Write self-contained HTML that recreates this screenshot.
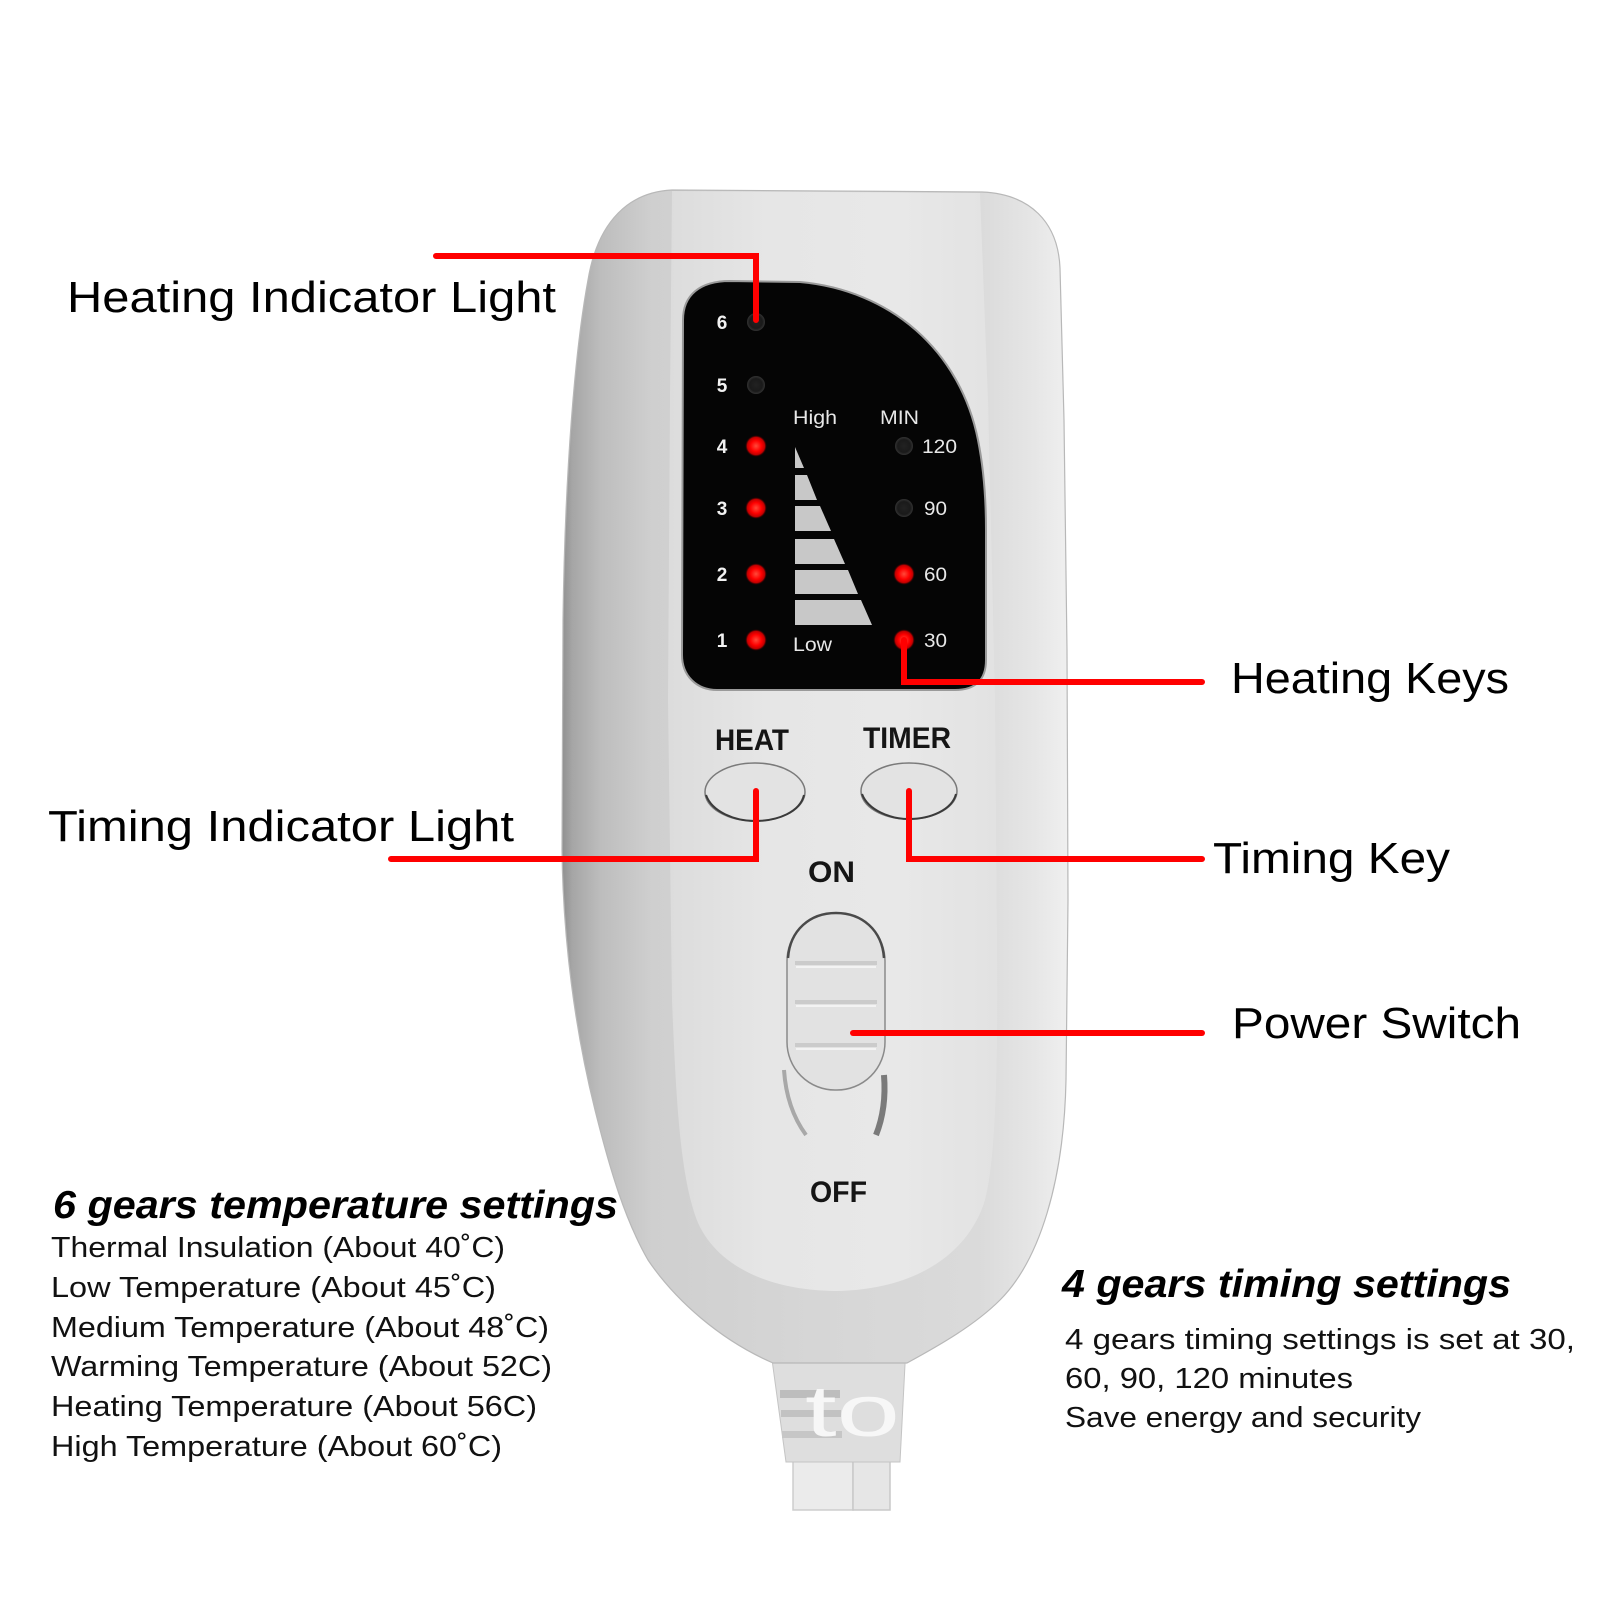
<!DOCTYPE html>
<html><head><meta charset="utf-8">
<style>
html,body{margin:0;padding:0;background:#fff;}
svg{display:block;}
text{font-family:"Liberation Sans",Arial,sans-serif;}
</style></head><body>
<svg xmlns="http://www.w3.org/2000/svg" width="1601" height="1601" viewBox="0 0 1601 1601">
<defs>
<linearGradient id="gBody" gradientUnits="userSpaceOnUse" x1="560" y1="0" x2="1070" y2="0">
<stop offset="0" stop-color="#8c8c8c"/>
<stop offset="0.025" stop-color="#a6a6a6"/>
<stop offset="0.08" stop-color="#bdbdbd"/>
<stop offset="0.18" stop-color="#cfcfcf"/>
<stop offset="0.5" stop-color="#d6d6d6"/>
<stop offset="0.82" stop-color="#dadada"/>
<stop offset="0.93" stop-color="#e6e6e6"/>
<stop offset="1" stop-color="#f0f0f0"/>
</linearGradient>
<linearGradient id="gFace" gradientUnits="userSpaceOnUse" x1="668" y1="0" x2="998" y2="0">
<stop offset="0" stop-color="#dcdcdc"/>
<stop offset="0.3" stop-color="#e6e6e6"/>
<stop offset="0.7" stop-color="#e8e8e8"/>
<stop offset="1" stop-color="#e2e2e2"/>
</linearGradient>
<radialGradient id="gRed">
<stop offset="0" stop-color="#ff4a3a"/>
<stop offset="0.5" stop-color="#ff0000"/>
<stop offset="0.8" stop-color="#c00000"/>
<stop offset="1" stop-color="#200000" stop-opacity="0"/>
</radialGradient>
<radialGradient id="gDark">
<stop offset="0" stop-color="#222"/>
<stop offset="0.7" stop-color="#1a1a1a"/>
<stop offset="1" stop-color="#333"/>
</radialGradient>
</defs>

<rect x="0" y="0" width="1601" height="1601" fill="#fff"/>

<!-- cables -->
<rect x="793" y="1450" width="60" height="60" fill="#ebebeb" stroke="#cdcdcd" stroke-width="1.5"/>
<rect x="853" y="1450" width="37" height="60" fill="#e6e6e6" stroke="#c8c8c8" stroke-width="1.5"/>
<!-- cable neck -->
<path d="M 770,1345 L 906,1345 L 900,1462 L 786,1462 Z" fill="#dedede" stroke="#c4c4c4" stroke-width="1"/>
<rect x="780" y="1390" width="60" height="8" fill="#bdbdbd"/>
<rect x="781" y="1410" width="60" height="7" fill="#c2c2c2"/>
<rect x="782" y="1431" width="60" height="7" fill="#c6c6c6"/>
<text x="805" y="1436" font-size="72" fill="#f7f7f7" textLength="95" lengthAdjust="spacingAndGlyphs">to</text>

<!-- body -->
<path d="M 672,190 L 982,192 C 1030,194 1058,222 1060,268 L 1064,420 L 1067,650 L 1068,900 L 1066,1080 C 1064,1180 1040,1260 1000,1300 C 975,1325 940,1345 907,1363 L 773,1363 C 720,1340 675,1300 648,1260 C 625,1220 610,1170 595,1110 C 575,1030 563,940 562,850 L 563,620 C 565,470 575,350 588,280 C 598,220 630,192 672,190 Z" fill="url(#gBody)" stroke="#b8b8b8" stroke-width="1.2"/>

<!-- front face -->
<path d="M 672,191 L 980,193 L 988,400 L 995,700 L 997,950 C 998,1080 995,1160 985,1200 C 970,1250 920,1290 835,1291 C 760,1290 710,1260 695,1215 C 680,1170 676,1100 672,1000 L 668,700 L 670,400 Z" fill="url(#gFace)"/>

<!-- screen -->
<path d="M 730,281 L 800,282 C 890,290 960,350 978,440 C 984,470 986,500 986,530 L 986,660 C 986,680 975,690 955,690 L 717,690 C 697,690 682,676 682,655 L 683,320 C 683,295 700,281 730,281 Z" fill="#050505" stroke="#9a9a9a" stroke-width="2"/>

<!-- triangle bars -->
<g fill="#c8c8c8">
<polygon points="795,447 795,468 804,468"/>
<polygon points="795,475 807,475 817,500 795,500"/>
<polygon points="795,506 820,506 831,531 795,531"/>
<polygon points="795,539 834,539 845,564 795,564"/>
<polygon points="795,570 848,570 858,594 795,594"/>
<polygon points="795,600 861,600 872,625 795,625"/>
</g>

<!-- LEDs left -->
<circle cx="756" cy="322" r="9" fill="url(#gDark)"/>
<circle cx="756" cy="385" r="9" fill="url(#gDark)"/>
<circle cx="756" cy="446" r="11" fill="url(#gRed)"/>
<circle cx="756" cy="508" r="11" fill="url(#gRed)"/>
<circle cx="756" cy="574" r="11" fill="url(#gRed)"/>
<circle cx="756" cy="640" r="11" fill="url(#gRed)"/>
<!-- LEDs right -->
<circle cx="904" cy="446" r="9" fill="url(#gDark)"/>
<circle cx="904" cy="508" r="9" fill="url(#gDark)"/>
<circle cx="904" cy="574" r="11" fill="url(#gRed)"/>
<circle cx="904" cy="640" r="11" fill="url(#gRed)"/>

<!-- screen labels -->
<g fill="#f2f2f2" font-size="19" font-weight="bold">
<text x="722" y="329" text-anchor="middle">6</text>
<text x="722" y="392" text-anchor="middle">5</text>
<text x="722" y="453" text-anchor="middle">4</text>
<text x="722" y="515" text-anchor="middle">3</text>
<text x="722" y="581" text-anchor="middle">2</text>
<text x="722" y="647" text-anchor="middle">1</text>
</g>
<g fill="#e8e8e8" font-size="19">
<text x="793" y="424" textLength="44" lengthAdjust="spacingAndGlyphs">High</text>
<text x="880" y="424" textLength="39" lengthAdjust="spacingAndGlyphs">MIN</text>
<text x="793" y="651" textLength="39" lengthAdjust="spacingAndGlyphs">Low</text>
<text x="922" y="453" textLength="35" lengthAdjust="spacingAndGlyphs">120</text>
<text x="924" y="515" textLength="23" lengthAdjust="spacingAndGlyphs">90</text>
<text x="924" y="581" textLength="23" lengthAdjust="spacingAndGlyphs">60</text>
<text x="924" y="647" textLength="23" lengthAdjust="spacingAndGlyphs">30</text>
</g>

<!-- HEAT / TIMER labels -->
<g fill="#151515" font-size="30" font-weight="bold">
<text x="715" y="750" textLength="74" lengthAdjust="spacingAndGlyphs">HEAT</text>
<text x="863" y="748" textLength="88" lengthAdjust="spacingAndGlyphs">TIMER</text>
<text x="808" y="882" textLength="47" lengthAdjust="spacingAndGlyphs">ON</text>
<text x="810" y="1202" textLength="57" lengthAdjust="spacingAndGlyphs">OFF</text>
</g>

<!-- buttons -->
<ellipse cx="755" cy="792" rx="50" ry="29" fill="#e3e3e3" stroke="#7a7a7a" stroke-width="1.5"/>
<path d="M 706,795 C 712,812 735,821 755,821 C 778,821 800,812 804,795" fill="none" stroke="#3a3a3a" stroke-width="2"/>
<ellipse cx="909" cy="791" rx="48" ry="28" fill="#e3e3e3" stroke="#7a7a7a" stroke-width="1.5"/>
<path d="M 862,794 C 868,810 890,819 909,819 C 930,819 952,810 956,794" fill="none" stroke="#3a3a3a" stroke-width="2"/>

<!-- switch track -->
<path d="M 784,1070 C 786,1100 795,1120 806,1135" fill="none" stroke="#a8a8a8" stroke-width="4"/>
<path d="M 884,1075 C 886,1100 882,1120 876,1135" fill="none" stroke="#7a7a7a" stroke-width="6"/>
<!-- slider -->
<rect x="787" y="913" width="98" height="177" rx="48" ry="48" fill="#e2e2e2" stroke="#8a8a8a" stroke-width="1.5"/>
<path d="M 788,958 C 790,930 810,913 836,913 C 862,913 882,930 884,958" fill="none" stroke="#4a4a4a" stroke-width="2.5"/>
<g stroke-width="4">
<line x1="795" y1="963" x2="877" y2="963" stroke="#cbcbcb"/>
<line x1="795" y1="1002" x2="877" y2="1002" stroke="#cbcbcb"/>
<line x1="795" y1="1045" x2="877" y2="1045" stroke="#cbcbcb"/>
</g>
<g stroke-width="2" stroke="#f3f3f3">
<line x1="796" y1="967" x2="876" y2="967"/>
<line x1="796" y1="1006" x2="876" y2="1006"/>
<line x1="796" y1="1049" x2="876" y2="1049"/>
</g>

<!-- red leader lines -->
<g fill="none" stroke="#ff0000" stroke-width="6" stroke-linecap="round" stroke-linejoin="miter">
<polyline points="436,256 756,256 756,320"/>
<polyline points="391,859 756,859 756,791"/>
<polyline points="904,640 904,682 1202,682"/>
<polyline points="909,791 909,859 1202,859"/>
<line x1="853" y1="1033" x2="1202" y2="1033"/>
</g>

<!-- callout labels -->
<g fill="#000" font-size="44">
<text x="67" y="312" textLength="489" lengthAdjust="spacingAndGlyphs">Heating Indicator Light</text>
<text x="48" y="841" textLength="466" lengthAdjust="spacingAndGlyphs">Timing Indicator Light</text>
<text x="1231" y="693" textLength="278" lengthAdjust="spacingAndGlyphs">Heating Keys</text>
<text x="1213" y="873" textLength="237" lengthAdjust="spacingAndGlyphs">Timing Key</text>
<text x="1232" y="1038" textLength="289" lengthAdjust="spacingAndGlyphs">Power Switch</text>
</g>

<!-- left settings -->
<text x="53" y="1218" font-size="39" font-weight="bold" font-style="italic" fill="#000" textLength="565" lengthAdjust="spacingAndGlyphs">6 gears temperature settings</text>
<g fill="#111" font-size="29">
<text x="51" y="1257" textLength="454" lengthAdjust="spacingAndGlyphs">Thermal Insulation (About 40˚C)</text>
<text x="51" y="1297" textLength="445" lengthAdjust="spacingAndGlyphs">Low Temperature (About 45˚C)</text>
<text x="51" y="1337" textLength="498" lengthAdjust="spacingAndGlyphs">Medium Temperature (About 48˚C)</text>
<text x="51" y="1376" textLength="501" lengthAdjust="spacingAndGlyphs">Warming Temperature (About 52C)</text>
<text x="51" y="1416" textLength="486" lengthAdjust="spacingAndGlyphs">Heating Temperature (About 56C)</text>
<text x="51" y="1456" textLength="451" lengthAdjust="spacingAndGlyphs">High Temperature (About 60˚C)</text>
</g>

<!-- right settings -->
<text x="1062" y="1297" font-size="39" font-weight="bold" font-style="italic" fill="#000" textLength="449" lengthAdjust="spacingAndGlyphs">4 gears timing settings</text>
<g fill="#111" font-size="29">
<text x="1065" y="1349" textLength="510" lengthAdjust="spacingAndGlyphs">4 gears timing settings is set at 30,</text>
<text x="1065" y="1388" textLength="288" lengthAdjust="spacingAndGlyphs">60, 90, 120 minutes</text>
<text x="1065" y="1427" textLength="356" lengthAdjust="spacingAndGlyphs">Save energy and security</text>
</g>
</svg>
</body></html>
